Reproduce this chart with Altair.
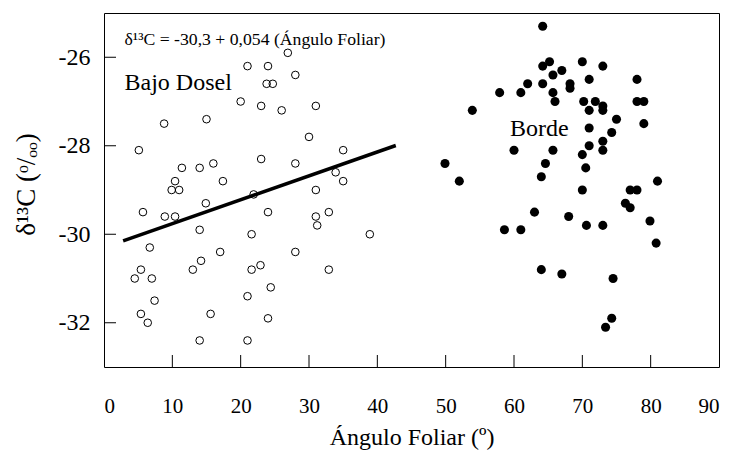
import altair as alt
import pandas as pd

# Bajo Dosel: leaf angle (deg) and d13C (per mil), open circles
bajo_angulo = [26.9, 21.0, 24.0, 28.0, 23.8, 24.7, 20.0, 23.0, 26.0, 8.8,
               15.0, 5.1, 23.0, 11.4, 14.0, 16.0, 28.0, 31.0, 30.0, 35.0,
               33.9, 35.0, 31.0, 21.9, 10.4, 17.4, 9.9, 11.0, 14.9, 5.7,
               8.9, 10.4, 24.0, 14.0, 21.6, 6.7, 17.0, 28.0, 5.4, 4.5,
               7.0, 14.2, 13.0, 21.6, 22.9, 24.4, 7.4, 21.0, 5.4, 6.4,
               15.6, 24.0, 14.0, 21.0, 31.0, 32.9, 31.2, 38.9, 32.9]
bajo_d13c = [-25.9, -26.2, -26.2, -26.4, -26.6, -26.6, -27.0, -27.1, -27.2, -27.5,
             -27.4, -28.1, -28.3, -28.5, -28.5, -28.4, -28.4, -27.1, -27.8, -28.1,
             -28.6, -28.8, -29.0, -29.1, -28.8, -28.8, -29.0, -29.0, -29.3, -29.5,
             -29.6, -29.6, -29.5, -29.9, -30.0, -30.3, -30.4, -30.4, -30.8, -31.0,
             -31.0, -30.6, -30.8, -30.8, -30.7, -31.2, -31.5, -31.4, -31.8, -32.0,
             -31.8, -31.9, -32.4, -32.4, -29.6, -29.5, -29.8, -30.0, -30.8]

# Borde: filled circles
borde_angulo = [64.2, 65.2, 64.2, 70.0, 73.0, 67.0, 65.7, 71.0, 78.0, 62.0,
                64.2, 68.2, 68.2, 57.9, 61.0, 65.7, 66.0, 70.2, 71.9, 78.0,
                79.0, 53.9, 71.0, 73.0, 73.0, 75.0, 79.0, 71.0, 74.3, 73.0,
                71.0, 73.0, 60.0, 65.7, 70.0, 49.9, 64.6, 70.5, 64.0, 52.0,
                81.0, 70.0, 77.0, 78.0, 76.3, 77.0, 63.0, 68.0, 58.6, 61.0,
                70.6, 73.0, 79.9, 80.8, 64.0, 67.0, 74.5, 74.3, 73.4]
borde_d13c = [-25.3, -26.1, -26.2, -26.1, -26.2, -26.3, -26.4, -26.5, -26.5, -26.6,
              -26.6, -26.6, -26.7, -26.8, -26.8, -26.8, -27.0, -27.0, -27.0, -27.0,
              -27.0, -27.2, -27.2, -27.1, -27.2, -27.4, -27.5, -27.6, -27.7, -27.9,
              -28.0, -28.1, -28.1, -28.1, -28.2, -28.4, -28.4, -28.5, -28.7, -28.8,
              -28.8, -29.0, -29.0, -29.0, -29.3, -29.4, -29.5, -29.6, -29.9, -29.9,
              -29.8, -29.8, -29.7, -30.2, -30.8, -30.9, -31.0, -31.9, -32.1]

# Fitted line for Bajo Dosel: d13C = -30.3 + 0.054 * angle
intercepto = -30.3
pendiente = 0.054
rango_ajuste = [2.8, 42.7]

x_ticks = [10, 20, 30, 40, 50, 60, 70, 80]
y_ticks = [-26, -28, -30, -32]

W, H = 615, 354
FONT = "Liberation Serif"

bajo = pd.DataFrame({"angulo": bajo_angulo, "d13c": bajo_d13c})
borde = pd.DataFrame({"angulo": borde_angulo, "d13c": borde_d13c})
ajuste = pd.DataFrame({"angulo": rango_ajuste,
                       "d13c": [intercepto + pendiente * a for a in rango_ajuste]})

xs = alt.Scale(domain=[0, 90], nice=False, zero=False)
ys = alt.Scale(domain=[-33, -25], nice=False, zero=False)

x_enc = alt.X("angulo:Q", scale=xs,
              axis=alt.Axis(values=list(range(0, 91, 10)), title="Ángulo Foliar (º)",
                            labelPadding=28, titlePadding=9, labelFontSize=21,
                            titleFontSize=24))
y_enc = alt.Y("d13c:Q", scale=ys,
              axis=alt.Axis(values=y_ticks, title="δ¹³C (ᵒ/ₒₒ)",
                            labelExpr="'' + datum.value",
                            labelPadding=14, titlePadding=18, labelFontSize=24,
                            titleFontSize=27, titleY=171))

puntos_bajo = alt.Chart(bajo).mark_point(
    shape="circle", filled=False, stroke="black", strokeWidth=1, size=58, opacity=1
).encode(x=x_enc, y=y_enc)

puntos_borde = alt.Chart(borde).mark_circle(
    color="black", size=82, opacity=1
).encode(x="angulo:Q", y="d13c:Q")

linea = alt.Chart(ajuste).mark_line(color="black", strokeWidth=3.5).encode(
    x="angulo:Q", y="d13c:Q")

# inward tick marks on the frame
tx = alt.Chart(pd.DataFrame({"t": x_ticks})).mark_rule(color="black", strokeWidth=1).encode(
    x="t:Q", y=alt.value(H - 12), y2=alt.value(H))
ty = alt.Chart(pd.DataFrame({"t": y_ticks})).mark_rule(color="black", strokeWidth=1).encode(
    y="t:Q", x=alt.value(0), x2=alt.value(12))

etiquetas = pd.DataFrame({
    "angulo": [3.0, 3.0, 59.4],
    "d13c": [-25.73, -26.75, -27.77],
    "txt": ["δ¹³C = -30,3 + 0,054 (Ángulo Foliar)", "Bajo Dosel", "Borde"],
    "fs": [17.7, 24, 24],
})
textos = alt.Chart(etiquetas).mark_text(
    align="left", baseline="alphabetic", font=FONT, color="black"
).encode(x="angulo:Q", y="d13c:Q", text="txt:N",
         size=alt.Size("fs:Q", scale=None, legend=None))

chart = alt.layer(tx, ty, linea, puntos_bajo, puntos_borde, textos).properties(
    width=W, height=H,
    background="white",
    autosize=alt.AutoSizeParams(type="none"),
    padding={"left": 104, "top": 13, "right": 12, "bottom": 84},
).configure_view(
    stroke="black", strokeWidth=1
).configure_axis(
    grid=False, domain=False, ticks=False, tickSize=0,
    labelFont=FONT, titleFont=FONT, labelColor="black", titleColor="black",
    titleFontWeight="normal",
)

chart.save("out.html", embed_options={"renderer": "svg", "actions": False})
